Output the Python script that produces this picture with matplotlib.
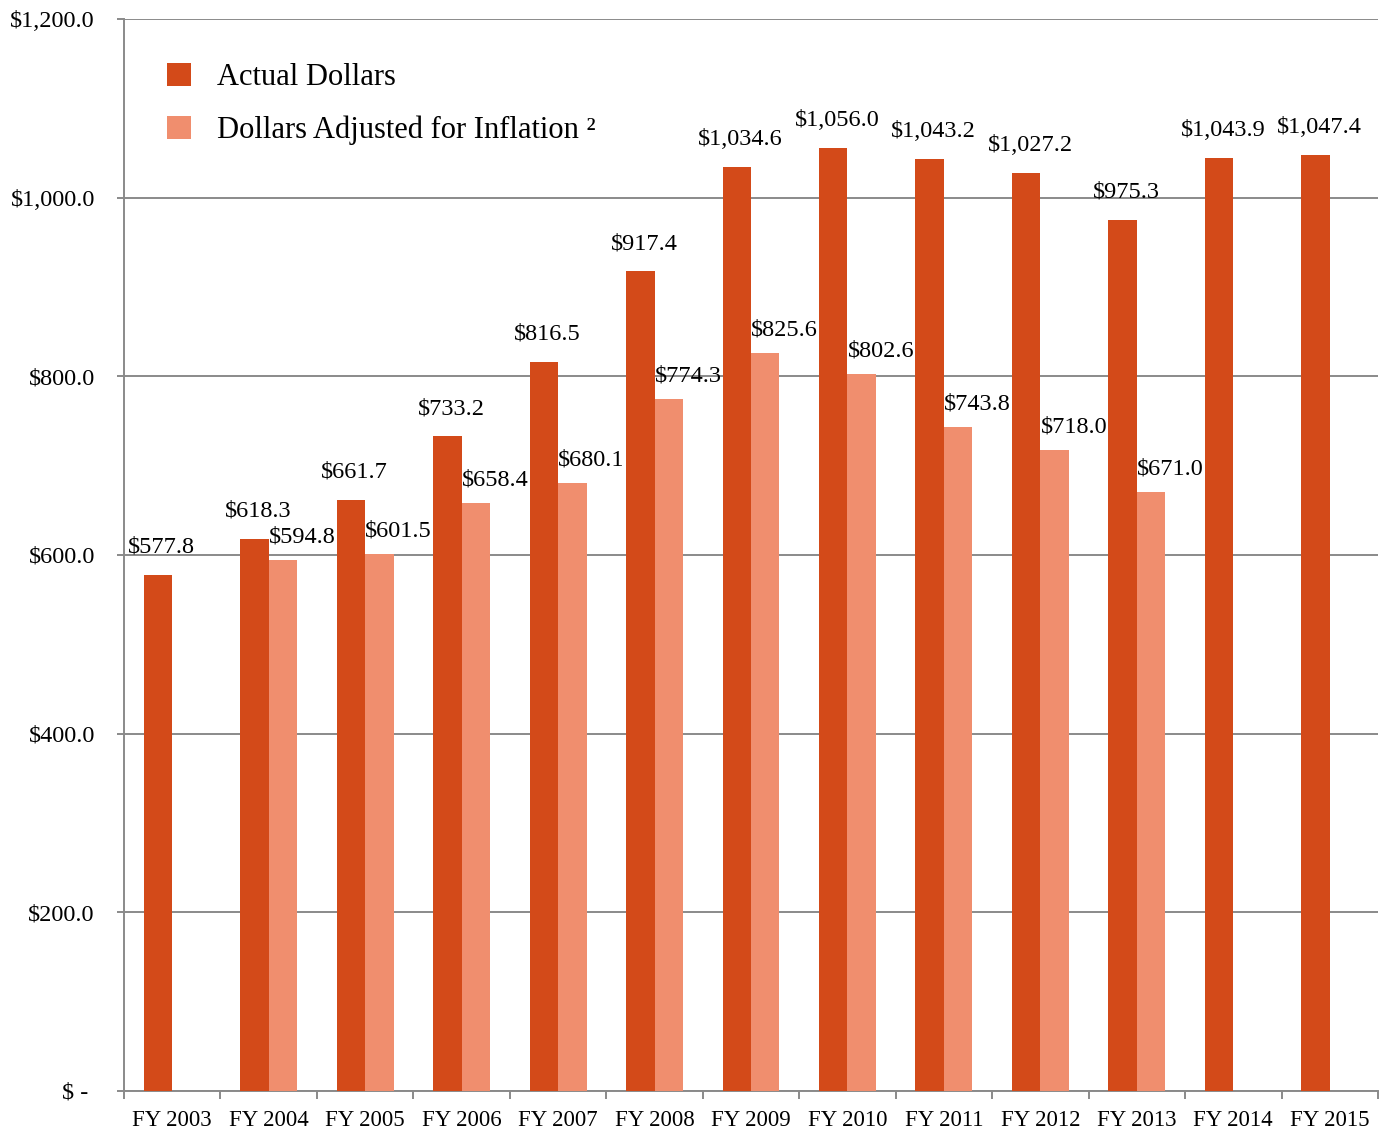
import numpy as np
import matplotlib.pyplot as plt

plt.rcParams['font.family'] = ['Liberation Serif', 'DejaVu Serif']

# data
years = ["FY 2003", "FY 2004", "FY 2005", "FY 2006", "FY 2007", "FY 2008", "FY 2009",
         "FY 2010", "FY 2011", "FY 2012", "FY 2013", "FY 2014", "FY 2015"]
actual = [577.8, 618.3, 661.7, 733.2, 816.5, 917.4, 1034.6, 1056.0, 1043.2, 1027.2, 975.3, 1043.9, 1047.4]
adjusted = [None, 594.8, 601.5, 658.4, 680.1, 774.3, 825.6, 802.6, 743.8, 718.0, 671.0, None, None]
yticks = [0, 200, 400, 600, 800, 1000, 1200]
ytick_labels = ["$ - ", "$200.0", "$400.0", "$600.0", "$800.0", "$1,000.0", "$1,200.0"]

c_actual = "#D34A19"
c_adj = "#F08E6E"
grid_c = "#8A8A8A"

fig = plt.figure(figsize=(13.88, 11.34), dpi=100)
ax = fig.add_axes([124 / 1388, 1 - 1091 / 1134, (1378 - 124) / 1388, (1091 - 19) / 1134])

x = np.arange(len(years))
w = 0.295

ax.bar(x - w / 2, actual, w, color=c_actual, label="Actual Dollars", zorder=3)
xa = [xi for xi, v in zip(x, adjusted) if v is not None]
va = [v for v in adjusted if v is not None]
ax.bar(np.array(xa) + w / 2, va, w, color=c_adj, label="Dollars Adjusted for Inflation \u00b2", zorder=3)

# value labels
for xi, v in zip(x, actual):
    ax.text(xi - w / 2 + 0.04, v + 19, f"${v:,.1f}", ha="center", va="bottom", fontsize=17.5, zorder=4)
for xi, v in zip(xa, va):
    ax.text(xi + w / 2 + 0.2, v + 14, f"${v:,.1f}", ha="center", va="bottom", fontsize=17.5, zorder=4)

ax.set_xlim(-0.5, len(years) - 0.5)
ax.set_ylim(0, 1200)

ax.set_yticks(yticks)
ax.set_yticklabels(ytick_labels)
ax.yaxis.grid(True, color=grid_c, linewidth=1.4, zorder=0)
ax.tick_params(axis="y", length=5, width=1.4, color=grid_c, pad=16, labelsize=17.5)

ax.set_xticks(np.arange(len(years) + 1) - 0.5)
ax.set_xticklabels([])
ax.set_xticks(x, minor=True)
ax.set_xticklabels(years, minor=True)
ax.tick_params(axis="x", which="major", length=6, width=1.4, color=grid_c)
ax.tick_params(axis="x", which="minor", length=0, pad=14, labelsize=16.5)

for s in ["top", "right"]:
    ax.spines[s].set_visible(False)
for s in ["left", "bottom"]:
    ax.spines[s].set_color(grid_c)
    ax.spines[s].set_linewidth(1.4)

ax.legend(loc="upper left", bbox_to_anchor=(0.012, 0.985), frameon=False, fontsize=22,
          handlelength=0.8, handleheight=0.8, handletextpad=0.85, labelspacing=0.78)

fig.savefig("out.png", dpi=100)
